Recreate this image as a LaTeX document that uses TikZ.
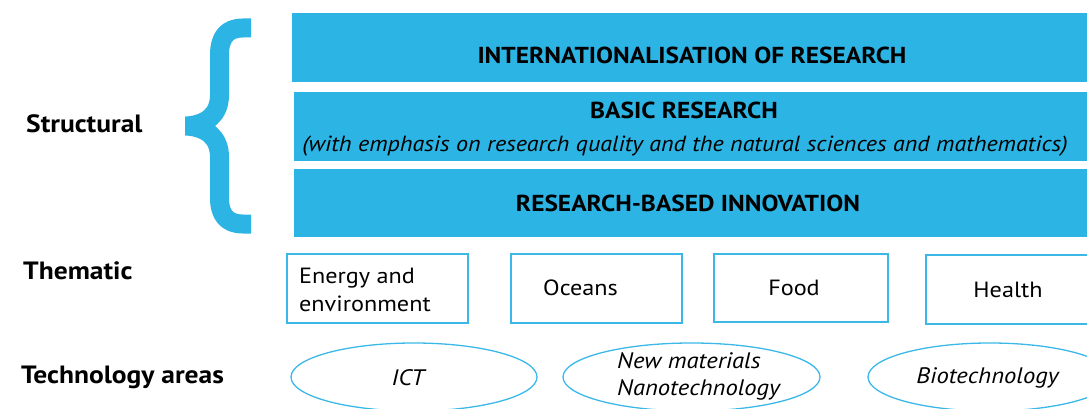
\documentclass[tikz,border=0pt]{standalone}
\usepackage{fontspec}
\setmainfont{PT Sans}[FakeStretch=1.1]
\usetikzlibrary{shapes.geometric}
\definecolor{barblue}{HTML}{2CB4E4}
\definecolor{lineblue}{HTML}{3BB8E8}
\tikzset{
  bar/.style={fill=barblue, draw=none, rectangle, inner sep=0},
  bartext/.style={inner sep=0, anchor=base, font=\fontsize{23.1}{26}\selectfont\bfseries},
  subtext/.style={inner sep=0, anchor=base, font=\fontsize{21.9}{26}\selectfont\itshape},
  lefttext/.style={inner sep=0, anchor=base west, font=\fontsize{25}{28}\selectfont\bfseries},
  thembox/.style={draw=lineblue, line width=1.5pt, rectangle, inner sep=0},
  themtext/.style={inner sep=0, font=\fontsize{22}{26}\selectfont},
  techell/.style={draw=lineblue, line width=1.3pt, ellipse, inner sep=0},
  techtext/.style={inner sep=0, font=\fontsize{22.4}{26}\selectfont\itshape},
  bracestyle/.style={draw=barblue, line width=19pt, line join=bevel}
}
\begin{document}
\begin{tikzpicture}[x=1pt,y=-1pt]
\useasboundingbox (0,0) rectangle (1087,409);
\clip (0,0) rectangle (1087,409);
% bars
\node[bar, minimum width=800pt, minimum height=69pt, anchor=north west] (b1) at (292,13) {};
\node[bar, minimum width=800pt, minimum height=69pt, anchor=north west] (b2) at (294,92) {};
\node[bar, minimum width=800pt, minimum height=68pt, anchor=north west] (b3) at (294,169) {};
\node[bartext] (t1) at (692,64) {INTERNATIONALISATION OF RESEARCH};
\node[bartext] (t2) at (684,119) {BASIC RESEARCH};
\node[subtext] (t2b) at (685,152) {(with emphasis on research quality and the natural sciences and mathematics)};
\node[bartext] (t3) at (688,211) {RESEARCH-BASED INNOVATION};
% brace
\draw[bracestyle] (251,28) -- (243,28) .. controls (227,28) and (219.5,37) .. (219.5,55)
  -- (219.5,95) .. controls (219.5,115) and (206,125) .. (186,126)
  .. controls (206,127) and (219.5,137) .. (219.5,157)
  -- (219.5,198) .. controls (219.5,215) and (227,224) .. (243,224) -- (251,224);
% left labels
\node[lefttext] (ls) at (26,133) {Structural};
\node[lefttext] (lt) at (23,279) {Thematic};
\node[lefttext] (la) at (21,383) {Technology areas};
% thematic boxes
\node[thembox, minimum width=181pt, minimum height=69pt, anchor=north west] (energy) at (286,253) {};
\node[thembox, minimum width=171pt, minimum height=69pt, anchor=north west] (oceans) at (510,253) {};
\node[thembox, minimum width=174pt, minimum height=68pt, anchor=north west] (food) at (713,253) {};
\node[thembox, minimum width=168pt, minimum height=69pt, anchor=north west] (health) at (925,254) {};
\node[themtext, anchor=base west] (energyt1) at (299,283) {Energy and};
\node[themtext, anchor=base west] (energyt2) at (299,311) {environment};
\node[themtext, anchor=base west] (oceanst) at (543,295) {Oceans};
\node[themtext, anchor=base] (foodt) at (794,295) {Food};
\node[themtext, anchor=base] (healtht) at (1008,297) {Health};
% technology ellipses
\node[techell, minimum width=246pt, minimum height=68pt] (ict) at (414,377) {};
\node[techell, minimum width=257pt, minimum height=68pt] (newmat) at (691.5,377) {};
\node[techell, minimum width=244pt, minimum height=68pt] (bio) at (990,377) {};
\node[techtext, anchor=base] (ictt) at (408,385) {ICT};
\node[techtext, anchor=base west] (newmatt1) at (617,368) {New materials};
\node[techtext, anchor=base west] (newmatt2) at (617,395) {Nanotechnology};
\node[techtext, anchor=base] (biot) at (987.5,383) {Biotechnology};
\end{tikzpicture}
\end{document}
